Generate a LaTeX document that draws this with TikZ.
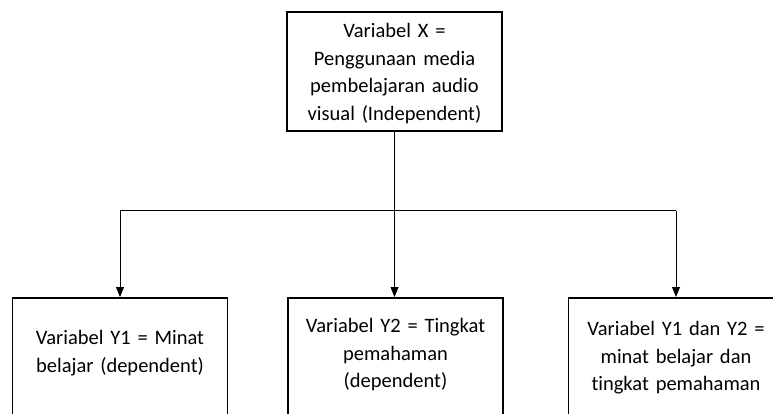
\documentclass[tikz,border=0pt]{standalone}
\usepackage{fontspec}
\setmainfont{Carlito}[Ligatures=NoCommon, WordSpace=0.75]
\usepackage{tikz}
\usetikzlibrary{arrows.meta}

\tikzset{
  box/.style={draw, line width=1.6pt, text width=205pt, align=center,
    inner xsep=5pt, inner ysep=0pt, anchor=north,
    font=\fontsize{20.5}{27.5}\selectfont},
  ybox/.style={box, text depth=150pt},
  arr/.style={-{Triangle[width=8pt,length=10pt]}, line width=0.8pt},
}

\begin{document}
\begin{tikzpicture}[x=1pt,y=-1pt]
\useasboundingbox (0,0) rectangle (773,414);
\node[box, text height=26pt, text depth=93pt] (varx) at (394.5,11)
  {Variabel X =\\ Penggunaan media\\ pembelajaran audio\\ visual (Independent)};
\node[ybox, text height=47pt] (vary1) at (120,297)
  {Variabel Y1 = Minat\\ belajar (dependent)};
\node[ybox, text height=35pt] (vary2) at (395.5,297)
  {Variabel Y2 = Tingkat\\ pemahaman\\ (dependent)};
\node[ybox, text height=38pt, xshift=-4pt] (vary3) at (680,297)
  {Variabel Y1 dan Y2 =\\ minat belajar dan\\ tingkat pemahaman};
\path (varx.south) ++(0,79) coordinate (fork);
\draw[line width=0.8pt] (varx.south) -- (fork);
\draw[line width=0.8pt] (fork -| vary1) -- (fork -| vary3);%
\draw[arr] (fork -| vary1) -- (vary1.north);
\draw[arr] (fork) -- (fork |- vary2.north);
\draw[arr] (fork -| vary3) -- (vary3.north);
\end{tikzpicture}
\end{document}
